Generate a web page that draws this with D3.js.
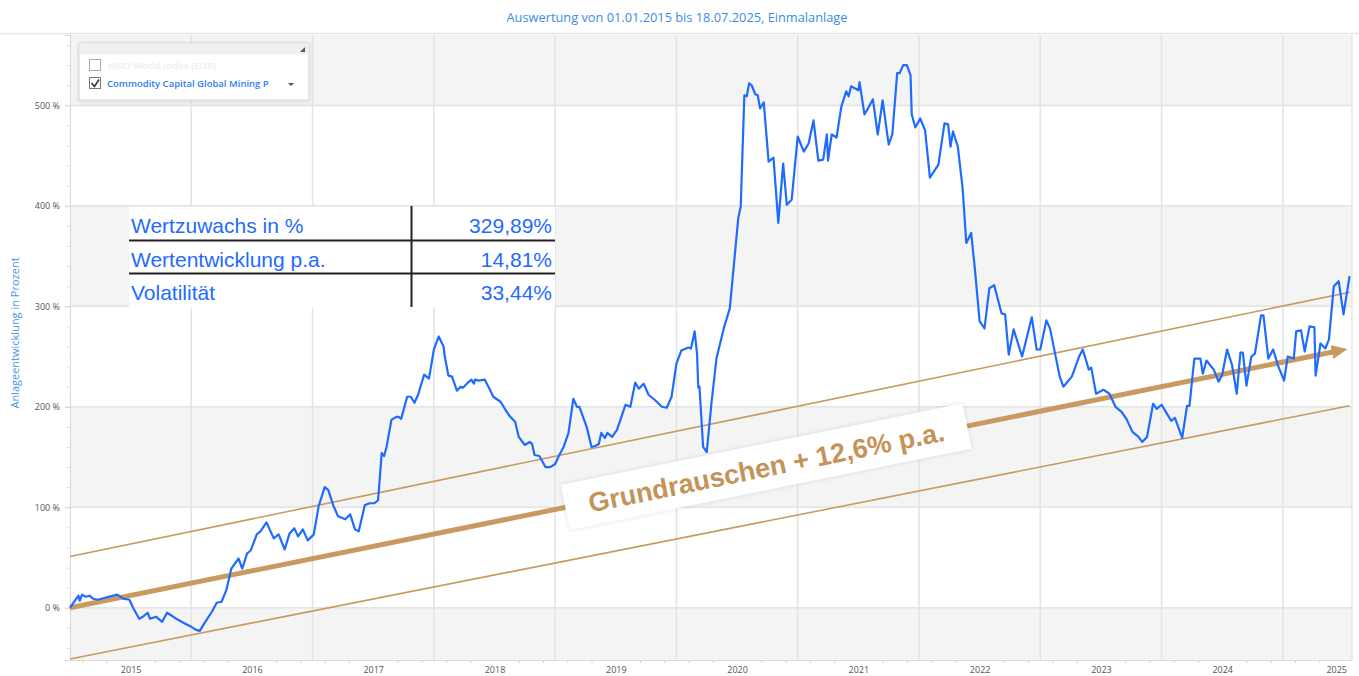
<!DOCTYPE html>
<html>
<head>
<meta charset="utf-8">
<script src="https://cdn.jsdelivr.net/npm/d3@7"></script>
<style>
  body { margin: 0; background: #fff; }
  svg { display: block; }
</style>
</head>
<body>
<svg id="chart" width="1359" height="676"></svg>
<script>
const title = "Auswertung von 01.01.2015 bis 18.07.2025, Einmalanlage";
const yTitle = "Anlageentwicklung in Prozent";
const seriesName = "Commodity Capital Global Mining P";
const hiddenSeriesName = "MSCI World Index (EUR)";

const yearLabels = [2015, 2016, 2017, 2018, 2019, 2020, 2021, 2022, 2023, 2024, 2025];
const yTicks = [0, 100, 200, 300, 400, 500];

// decimal years and performance in %
const dates = [
  2015.00, 2015.07, 2015.08, 2015.10, 2015.13, 2015.16, 2015.19, 2015.23, 2015.32, 2015.39, 2015.44, 2015.49, 2015.52, 2015.57, 2015.60, 2015.64, 2015.66, 2015.71, 2015.76, 2015.80, 2015.84, 2015.89, 2015.95,
  2016.00, 2016.04, 2016.07, 2016.11, 2016.17, 2016.21, 2016.25, 2016.29, 2016.33, 2016.39, 2016.42, 2016.46, 2016.49, 2016.54, 2016.57, 2016.62, 2016.68, 2016.72, 2016.77, 2016.81, 2016.85, 2016.88, 2016.92, 2016.96,
  2017.01, 2017.05, 2017.10, 2017.13, 2017.17, 2017.21, 2017.27, 2017.31, 2017.35, 2017.38, 2017.40, 2017.43, 2017.47, 2017.51, 2017.54, 2017.57, 2017.59, 2017.61, 2017.65, 2017.69, 2017.71, 2017.73, 2017.78, 2017.81, 2017.84, 2017.87, 2017.92, 2017.96,
  2018.00, 2018.04, 2018.08, 2018.09, 2018.12, 2018.15, 2018.19, 2018.22, 2018.24, 2018.28, 2018.31, 2018.33, 2018.34, 2018.37, 2018.42, 2018.45, 2018.49, 2018.55, 2018.59, 2018.63, 2018.67, 2018.70, 2018.75, 2018.79, 2018.81, 2018.83, 2018.87, 2018.92, 2018.96,
  2019.00, 2019.03, 2019.07, 2019.11, 2019.15, 2019.18, 2019.20, 2019.26, 2019.30, 2019.33, 2019.36, 2019.38, 2019.41, 2019.43, 2019.47, 2019.51, 2019.58, 2019.62, 2019.66, 2019.69, 2019.73, 2019.77, 2019.82, 2019.88, 2019.92, 2019.96,
  2020.00, 2020.04, 2020.10, 2020.12, 2020.15, 2020.17, 2020.18, 2020.19, 2020.22, 2020.25, 2020.29, 2020.33, 2020.39, 2020.44, 2020.51, 2020.53, 2020.56, 2020.58, 2020.60, 2020.62, 2020.65, 2020.67, 2020.69, 2020.72, 2020.76, 2020.80, 2020.84, 2020.88, 2020.91, 2020.95,
  2021.00, 2021.05, 2021.09, 2021.13, 2021.17, 2021.21, 2021.24, 2021.25, 2021.28, 2021.32, 2021.36, 2021.40, 2021.42, 2021.44, 2021.47, 2021.50, 2021.51, 2021.55, 2021.58, 2021.62, 2021.66, 2021.70, 2021.75, 2021.78, 2021.82, 2021.84, 2021.87, 2021.90, 2021.93, 2021.94, 2021.97,
  2022.01, 2022.05, 2022.09, 2022.16, 2022.21, 2022.24, 2022.26, 2022.28, 2022.32, 2022.36, 2022.39, 2022.43, 2022.46, 2022.50, 2022.54, 2022.58, 2022.62, 2022.68, 2022.71, 2022.74, 2022.78, 2022.85, 2022.93, 2022.97,
  2023.00, 2023.05, 2023.08, 2023.16, 2023.19, 2023.26, 2023.32, 2023.35, 2023.40, 2023.42, 2023.46, 2023.52, 2023.57, 2023.62, 2023.67, 2023.71, 2023.76, 2023.81, 2023.84, 2023.88, 2023.93, 2023.96,
  2024.00, 2024.04, 2024.08, 2024.11, 2024.17, 2024.21, 2024.23, 2024.27, 2024.32, 2024.34, 2024.37, 2024.43, 2024.47, 2024.50, 2024.54, 2024.58, 2024.62, 2024.65, 2024.67, 2024.70, 2024.74, 2024.77, 2024.82, 2024.84, 2024.88, 2024.92, 2024.96,
  2025.01, 2025.04, 2025.09, 2025.11, 2025.15, 2025.18, 2025.22, 2025.26, 2025.27, 2025.31, 2025.35, 2025.38, 2025.42, 2025.46, 2025.50, 2025.55
];
const values = [
  0, 12, 7, 13, 11, 12, 9, 8, 11, 13, 9, 8, 0, -11, -9, -5, -11, -9, -14, -5, -8, -12, -16,
  -19, -22, -23, -15, -4, 5, 6, 18, 39, 49, 39, 54, 57, 73, 76, 85, 69, 73, 58, 74, 79, 71, 78, 67,
  73, 101, 120, 117, 102, 91, 88, 93, 78, 76, 86, 102, 104, 104, 107, 154, 151, 160, 187, 190, 190, 188, 210, 210, 204, 212, 232, 228,
  257, 270, 260, 250, 231, 230, 216, 220, 219, 224, 227, 223, 227, 226, 227, 220, 210, 205, 197, 190, 185, 170, 162, 165, 163, 152, 151, 140, 140,
  143, 151, 160, 174, 208, 200, 200, 180, 160, 161, 163, 174, 169, 174, 170, 177, 202, 200, 224, 218, 223, 212, 207, 200, 199, 210,
  243, 256, 259, 258, 275, 253, 219, 220, 160, 155, 205, 248, 278, 298, 388, 399, 510, 509, 522, 520, 511, 510, 497, 503, 444, 448, 383, 442, 401, 406,
  469, 454, 462, 485, 445, 446, 471, 445, 471, 468, 499, 514, 509, 519, 517, 515, 523, 491, 497, 506, 471, 505, 461, 471, 532, 532, 540, 540, 530, 491, 478,
  487, 475, 428, 441, 482, 481, 459, 474, 459, 417, 363, 373, 338, 285, 278, 318, 321, 293, 292, 252, 277, 250, 289, 257,
  257, 286, 278, 230, 220, 230, 250, 257, 237, 239, 213, 217, 213, 200, 195, 188, 175, 170, 165, 170, 203, 198,
  202, 194, 186, 189, 169, 201, 201, 248, 248, 233, 246, 237, 225, 232, 257, 242, 213, 254, 254, 221, 250, 253, 291, 291, 248, 257, 241,
  226, 250, 248, 275, 276, 255, 280, 279, 231, 263, 258, 267, 320, 325, 292, 330
];

// trend channel drawn on top of the chart
const trendDates = [2015.00, 2025.55];
const trendMid = [0, 258];
const trendUpper = [51, 314];
const trendLower = [-51, 201];
const trendLabel = "Grundrauschen + 12,6% p.a.";
const trendLabelAt = 2020.74;

const statLabels = ["Wertzuwachs in %", "Wertentwicklung p.a.", "Volatilität"];
const statValues = ["329,89%", "14,81%", "33,44%"];

/////////////////////////////////////////////////////
const W = 1359, H = 676;
const plotL = 70, plotR = 1352, plotT = 35, plotB = 660;
const blue = "#1f6bff";
const tan = "#c89a60";
const gridColor = "#e4e4e4";

const svg = d3.select("#chart");

const x = d3.scaleLinear().domain([2015, 2025.57]).range([plotL, plotR]);
const y = d3.scaleLinear().domain([-52, 570]).range([plotB, plotT]);

// title
svg.append("text")
  .attr("x", 677).attr("y", 22)
  .attr("text-anchor", "middle")
  .style("font-family", "'Open Sans', sans-serif")
  .style("font-size", "12.8px")
  .attr("fill", "#3a8de0")
  .text(title);

svg.append("line")
  .attr("x1", 0).attr("x2", W).attr("y1", plotT - 1.5).attr("y2", plotT - 1.5)
  .attr("stroke", "#e6e6e6").attr("stroke-width", 1.5);

// alternating bands
const bandStarts = [-100, 100, 300, 500];
svg.append("g")
  .selectAll("rect")
  .data(bandStarts)
  .join("rect")
  .attr("x", plotL).attr("width", plotR - plotL)
  .attr("y", d => Math.max(plotT, y(d + 100)))
  .attr("height", d => Math.min(plotB, y(d)) - Math.max(plotT, y(d + 100)))
  .attr("fill", "#f4f4f4");

// grid
svg.append("g")
  .selectAll("line")
  .data(yTicks)
  .join("line")
  .attr("x1", plotL).attr("x2", plotR)
  .attr("y1", d => y(d)).attr("y2", d => y(d))
  .attr("stroke", gridColor).attr("stroke-width", 1.6);

svg.append("g")
  .selectAll("line")
  .data(yearLabels.slice(1))
  .join("line")
  .attr("x1", d => x(d)).attr("x2", d => x(d))
  .attr("y1", plotT).attr("y2", plotB)
  .attr("stroke", gridColor).attr("stroke-width", 1.6);

svg.append("line")
  .attr("x1", plotR).attr("x2", plotR).attr("y1", plotT).attr("y2", plotB)
  .attr("stroke", gridColor).attr("stroke-width", 1.5);

// y axis
const yAxis = svg.append("g")
  .attr("transform", `translate(${plotL},0)`)
  .call(d3.axisLeft(y).tickValues(yTicks).tickFormat(d => d + " %").tickSize(5).tickPadding(5));
yAxis.select(".domain").attr("stroke", "#d6d6d6");
yAxis.selectAll(".tick line").attr("stroke", "#cccccc");
yAxis.selectAll("text")
  .style("font-family", "'Open Sans', sans-serif")
  .style("font-size", "9px")
  .attr("fill", "#555");

svg.append("g")
  .attr("transform", `translate(${plotL},0)`)
  .call(d3.axisLeft(y).tickValues(d3.range(-40, 570, 20).filter(v => v % 100 !== 0)).tickSize(3).tickFormat(""))
  .call(g => g.select(".domain").remove())
  .selectAll(".tick line").attr("stroke", "#dddddd");

svg.append("text")
  .attr("transform", "translate(19,333) rotate(-90)")
  .attr("text-anchor", "middle")
  .style("font-family", "'Open Sans', sans-serif")
  .style("font-size", "11px")
  .attr("fill", "#4a95e6")
  .text(yTitle);

// x axis: labels centred in each year, small ticks in between
const xLabelAxis = svg.append("g")
  .attr("transform", `translate(0,${plotB})`)
  .call(d3.axisBottom(x).tickValues(yearLabels.map(d => Math.min(d + 0.5, 2025.44))).tickSize(0).tickPadding(7)
    .tickFormat(d => Math.floor(d)));
xLabelAxis.select(".domain").attr("stroke", "#dcdcdc");
xLabelAxis.selectAll("text")
  .style("font-family", "'Open Sans', sans-serif")
  .style("font-size", "9px")
  .attr("fill", "#555");

const minorX = [];
yearLabels.forEach(yr => [0, 1, 3, 4].forEach(k => {
  const t = yr + (k + 0.5) / 5;
  if (t < 2025.55) minorX.push(t);
}));
svg.append("g")
  .attr("transform", `translate(0,${plotB})`)
  .call(d3.axisBottom(x).tickValues(minorX).tickSize(3).tickFormat(""))
  .call(g => g.select(".domain").remove())
  .selectAll(".tick line").attr("stroke", "#d4d4d4");

// trend channel
const trendLine = d3.line().x(d => x(d[0])).y(d => y(d[1]));

svg.append("defs").append("marker")
  .attr("id", "arrow")
  .attr("markerUnits", "userSpaceOnUse")
  .attr("viewBox", "0 0 16 14")
  .attr("refX", 2).attr("refY", 7)
  .attr("markerWidth", 16).attr("markerHeight", 14)
  .attr("orient", "auto")
  .append("path")
  .attr("d", "M0,0 L16,7 L0,14 Z")
  .attr("fill", tan);

[trendUpper, trendLower].forEach(vals => {
  svg.append("path")
    .datum(d3.zip(trendDates, vals))
    .attr("d", trendLine)
    .attr("fill", "none")
    .attr("stroke", tan)
    .attr("stroke-width", 1.6);
});

const midPts = d3.zip(trendDates, trendMid);
svg.append("path")
  .datum([midPts[0], [trendDates[1] - 0.13, trendMid[1] - (trendMid[1] - trendMid[0]) * 0.13 / (trendDates[1] - trendDates[0])]])
  .attr("d", trendLine)
  .attr("fill", "none")
  .attr("stroke", tan)
  .attr("stroke-width", 5)
  .attr("marker-end", "url(#arrow)");

// the series
svg.append("path")
  .datum(d3.zip(dates, values))
  .attr("d", d3.line().x(d => x(d[0])).y(d => y(d[1])))
  .attr("fill", "none")
  .attr("stroke", blue)
  .attr("stroke-width", 2.2)
  .attr("stroke-linejoin", "round");

// label on the trend arrow
const angle = Math.atan2(y(trendMid[1]) - y(trendMid[0]), x(trendDates[1]) - x(trendDates[0])) * 180 / Math.PI;
const labelVal = trendMid[0] + (trendMid[1] - trendMid[0]) * (trendLabelAt - trendDates[0]) / (trendDates[1] - trendDates[0]);
const labelG = svg.append("g")
  .attr("transform", `translate(${x(trendLabelAt)},${y(labelVal)}) rotate(${angle})`);
labelG.append("rect")
  .attr("x", -205).attr("y", -23).attr("width", 410).attr("height", 46)
  .attr("fill", "#fff")
  .style("filter", "drop-shadow(0px 0px 2px rgba(0,0,0,0.12))");
labelG.append("text")
  .attr("x", 0).attr("y", 10)
  .attr("text-anchor", "middle")
  .style("font-family", "'Liberation Sans', Arial, sans-serif")
  .style("font-size", "27px")
  .style("font-weight", "bold")
  .attr("fill", "#c4935a")
  .text(trendLabel);

// stats table
const tbl = svg.append("g");
tbl.append("rect")
  .attr("x", 129).attr("y", 207).attr("width", 426).attr("height", 101)
  .attr("fill", "#fff");
tbl.selectAll(".lbl")
  .data(statLabels)
  .join("text")
  .attr("class", "lbl")
  .attr("x", 131).attr("y", (d, i) => 233 + i * 33.5)
  .style("font-family", "'Liberation Sans', Arial, sans-serif")
  .style("font-size", "21px")
  .attr("fill", blue)
  .text(d => d);
tbl.selectAll(".val")
  .data(statValues)
  .join("text")
  .attr("class", "val")
  .attr("x", 552).attr("y", (d, i) => 233 + i * 33.5)
  .attr("text-anchor", "end")
  .style("font-family", "'Liberation Sans', Arial, sans-serif")
  .style("font-size", "21px")
  .attr("fill", blue)
  .text(d => d);
tbl.selectAll(".hl")
  .data([240.5, 273.5])
  .join("line")
  .attr("x1", 129).attr("x2", 555)
  .attr("y1", d => d).attr("y2", d => d)
  .attr("stroke", "#222").attr("stroke-width", 2);
tbl.append("line")
  .attr("x1", 411.5).attr("x2", 411.5).attr("y1", 206).attr("y2", 307)
  .attr("stroke", "#222").attr("stroke-width", 2);

// legend box
const lg = svg.append("g").attr("transform", "translate(79,43)");
lg.append("rect")
  .attr("width", 230).attr("height", 57)
  .attr("fill", "#fff").attr("stroke", "#d6d6d6")
  .style("filter", "drop-shadow(0px 1px 2px rgba(0,0,0,0.10))");
lg.append("rect")
  .attr("x", 0.5).attr("y", 0.5).attr("width", 229).attr("height", 11)
  .attr("fill", "#efefef");
lg.append("path")
  .attr("d", "M226,4 L226,9 L221,9 Z")
  .attr("fill", "#555");
[0, 1].forEach(i => {
  lg.append("rect")
    .attr("x", 10.5).attr("y", 16.5 + i * 18).attr("width", 11).attr("height", 11)
    .attr("fill", "#fff").attr("stroke", i ? "#777" : "#aaa");
});
lg.append("path")
  .attr("d", "M12.5,40 L15.5,43.5 L20,36.5")
  .attr("fill", "none").attr("stroke", "#333").attr("stroke-width", 1.6);
lg.append("text")
  .attr("x", 29).attr("y", 26)
  .style("font-family", "'Open Sans', sans-serif")
  .style("font-size", "9.5px")
  .style("font-weight", "600")
  .attr("fill", "#eeeeee")
  .text(hiddenSeriesName);
lg.append("text")
  .attr("x", 28).attr("y", 44)
  .style("font-family", "'Open Sans', sans-serif")
  .style("font-size", "9.5px")
  .style("font-weight", "600")
  .attr("fill", "#2f7bf5")
  .text(seriesName);
lg.append("path")
  .attr("d", "M209,40 L215,40 L212,43 Z")
  .attr("fill", "#555");
</script>
</body>
</html>
